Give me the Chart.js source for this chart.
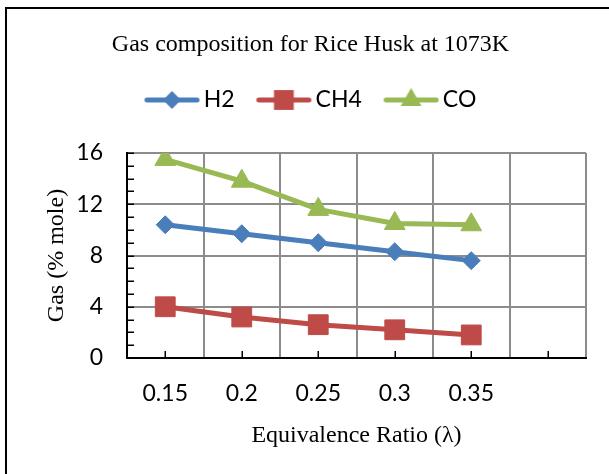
<!DOCTYPE html>
<html><head><meta charset="utf-8">
<script src="https://cdn.jsdelivr.net/npm/chart.js@4/dist/chart.umd.min.js"></script>
<style>
html,body{margin:0;padding:0;background:#fff;}
#wrap{position:relative;width:609px;height:474px;overflow:hidden;background:#fff;}
#frame{position:absolute;left:5px;top:7px;width:1000px;height:1000px;border:2px solid #000;box-sizing:border-box;pointer-events:none;}
canvas{position:absolute;left:0;top:0;}
</style></head><body>
<div id="wrap"><canvas id="c" width="609" height="474"></canvas><div id="frame"></div></div>
<script>
// ---- data ----
const categories = ['0.15', '0.2', '0.25', '0.3', '0.35', ''];
const h2Values  = [10.4, 9.7, 9.0, 8.3, 7.6];
const ch4Values = [4.0, 3.2, 2.6, 2.2, 1.8];
const coValues  = [15.5, 13.8, 11.6, 10.5, 10.4];
const yMin = 0, yMax = 16, yStep = 4, yMinorStep = 1;

const titleText = 'Gas composition for Rice Husk at 1073K';
const xTitle = 'Equivalence Ratio (\u03bb)';
const yTitle = 'Gas (% mole)';

const BLUE = '#4a7ebb', RED = '#be4b48', GREEN = '#98b954';
const GRID = '#8c8c8c';
const TICKFONT = {family: 'Lato', size: 23, weight: 'normal'};
const SERIF = {family: '"Liberation Serif", "Times New Roman", serif', size: 24, weight: 'normal'};

function shapePath(ctx, style, cx, cy, r) {
  ctx.beginPath();
  if (style === 'rectRot') {
    ctx.moveTo(cx, cy - r); ctx.lineTo(cx + r, cy); ctx.lineTo(cx, cy + r); ctx.lineTo(cx - r, cy);
  } else if (style === 'rect') {
    const s = r * Math.SQRT1_2;
    ctx.rect(cx - s, cy - s, 2 * s, 2 * s);
  } else if (style === 'triangle') {
    const a = r * Math.sin(Math.PI / 3);
    ctx.moveTo(cx, cy - r); ctx.lineTo(cx + a, cy + r / 2); ctx.lineTo(cx - a, cy + r / 2);
  }
  ctx.closePath();
}
function makeLegendIcon(ds) {
  const c = document.createElement('canvas');
  c.width = 64; c.height = 26;
  const g = c.getContext('2d');
  g.strokeStyle = ds.borderColor; g.lineWidth = 5; g.lineCap = 'round';
  g.beginPath(); g.moveTo(10.5, 13); g.lineTo(60.5, 13); g.stroke();
  g.fillStyle = ds.borderColor;
  shapePath(g, ds.pointStyle, 35.5, 13, ds.pointRadius);
  g.fill();
  return c;
}

const minorTicks = {
  id: 'minorTicks',
  beforeDatasetsDraw(chart) {
    const {ctx, chartArea: a, scales: {x, y}} = chart;
    ctx.save();
    ctx.strokeStyle = '#000'; ctx.lineWidth = 1.5;
    ctx.beginPath();
    for (let v = yMin; v <= yMax; v += yMinorStep) {
      const py = Math.round(y.getPixelForValue(v)) + 0.25;
      ctx.moveTo(a.left, py); ctx.lineTo(a.left + 7, py);
    }
    for (let i = 0; i < categories.length; i++) {
      const px = Math.round(x.getPixelForValue(i)) + 0.25;
      ctx.moveTo(px, a.bottom); ctx.lineTo(px, a.bottom - 7);
    }
    ctx.stroke();
    ctx.restore();
  }
};

const mk = (label, data, color, style, r) => ({
  label, data, borderColor: color, backgroundColor: color,
  borderWidth: 5, pointStyle: style, pointRadius: r, pointHoverRadius: r,
  pointBorderWidth: 1, pointBorderColor: color, pointBackgroundColor: color,
  tension: 0, fill: false
});

new Chart(document.getElementById('c'), {
  type: 'line',
  data: {
    labels: categories,
    datasets: [
      mk('H2', h2Values, BLUE, 'rectRot', 9),
      mk('CH4', ch4Values, RED, 'rect', 14),
      mk('CO', coValues, GREEN, 'triangle', 12)
    ]
  },
  options: {
    responsive: false, animation: false, devicePixelRatio: 1,
    layout: {padding: {left: 12, right: 0, top: 0, bottom: 0}},
    plugins: {
      tooltip: {enabled: false},
      title: {display: true, text: titleText, color: '#000', font: SERIF,
              padding: {top: 30, bottom: 7.7}},
      legend: {
        display: true, position: 'top',
        labels: {
          usePointStyle: true, pointStyleWidth: 47.5, padding: 22,
          font: TICKFONT, color: '#000',
          generateLabels(chart) {
            return chart.data.datasets.map((ds, i) => ({
              text: ds.label, pointStyle: makeLegendIcon(ds), datasetIndex: i,
              hidden: false, lineWidth: 0, fillStyle: ds.borderColor,
              strokeStyle: ds.borderColor, fontColor: '#000'
            }));
          }
        }
      }
    },
    scales: {
      x: {
        type: 'category', position: 'bottom', offset: true,
        grid: {offset: true, color: GRID, lineWidth: 2, drawTicks: false},
        border: {color: '#000', width: 2},
        ticks: {font: TICKFONT, color: '#000', padding: 22, maxRotation: 0, autoSkip: false},
        title: {display: true, text: xTitle, color: '#000', font: SERIF, padding: {top: 0, bottom: 23.6}},
        afterFit(s) { s.height = 116; }
      },
      xTop: {
        type: 'category', position: 'top', display: true,
        grid: {display: false}, border: {display: false}, ticks: {display: false},
        afterFit(s) { s.height = 31.5; }
      },
      y: {
        type: 'linear', position: 'left', min: yMin, max: yMax,
        grid: {color: GRID, lineWidth: 2, drawTicks: false},
        border: {color: '#000', width: 2},
        ticks: {stepSize: yStep, font: TICKFONT, color: '#000', padding: 24},
        title: {display: true, text: yTitle, color: '#000', font: SERIF, padding: {top: 30.6, bottom: 0}},
        afterFit(s) { s.width = 115; }
      },
      yRight: {
        type: 'linear', position: 'right', display: true,
        grid: {display: false}, border: {display: false}, ticks: {display: false},
        afterFit(s) { s.width = 23; }
      }
    }
  },
  plugins: [minorTicks]
});
</script>
</body></html>
